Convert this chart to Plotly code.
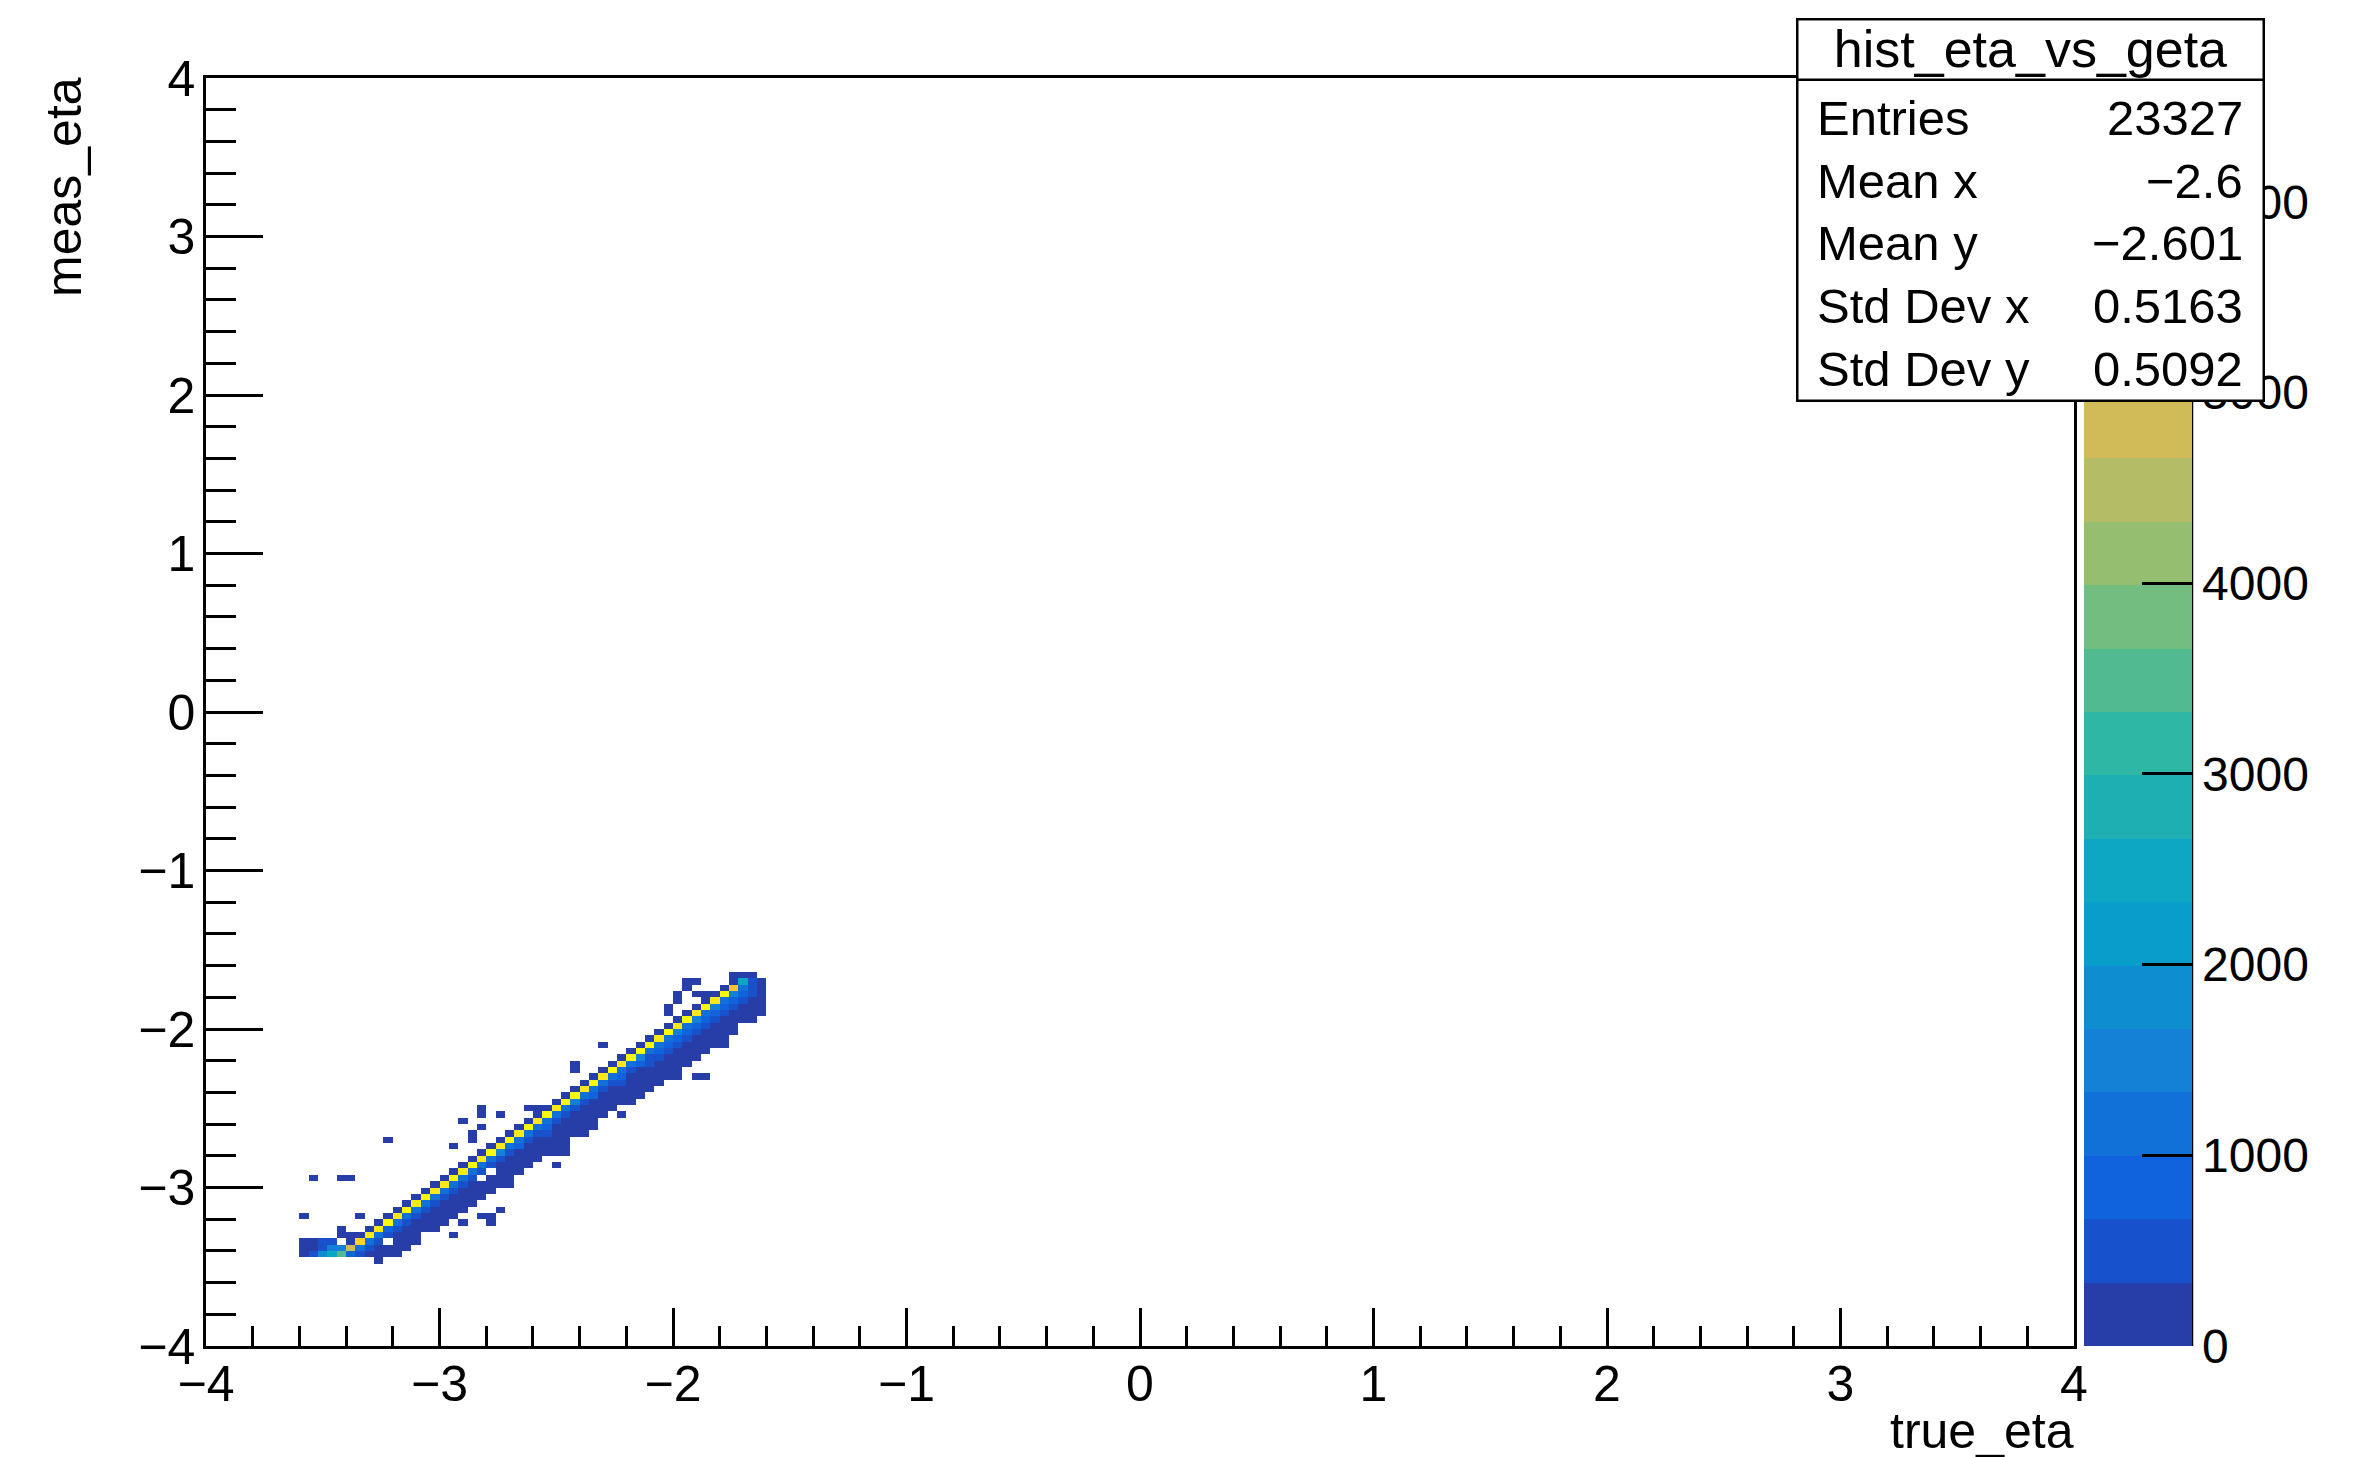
import plotly.graph_objects as go

# ---------------- data ----------------
# bin width of the 2D histogram (200 x 200 bins on [-4, 4])
bin_width = 0.04

# centre of each populated true_eta column
true_eta_bins = [-3.58, -3.54, -3.50, -3.46, -3.42, -3.38, -3.34, -3.30, -3.26, -3.22,
                 -3.18, -3.14, -3.10, -3.06, -3.02, -2.98, -2.94, -2.90, -2.86, -2.82,
                 -2.78, -2.74, -2.70, -2.66, -2.62, -2.58, -2.54, -2.50, -2.46, -2.42,
                 -2.38, -2.34, -2.30, -2.26, -2.22, -2.18, -2.14, -2.10, -2.06, -2.02,
                 -1.98, -1.94, -1.90, -1.86, -1.82, -1.78, -1.74, -1.70, -1.66, -1.62]

# meas_eta bin centres filled in each column
meas_eta_cells = [
    [-3.42, -3.38, -3.18, -3.34],
    [-3.42, -3.38, -2.94, -3.34],
    [-3.42, -3.38, -3.34],
    [-3.42, -3.38, -3.34],
    [-3.42, -3.38, -3.30, -3.26, -2.94],
    [-3.42, -3.38, -3.34, -3.30, -2.94],
    [-3.42, -3.38, -3.34, -3.30, -3.18],
    [-3.42, -3.38, -3.34, -3.30, -3.26],
    [-3.46, -3.42, -3.38, -3.34, -3.30, -3.26, -3.22],
    [-3.38, -3.30, -3.26, -3.22, -3.18, -2.70, -3.42],
    [-3.34, -3.30, -3.26, -3.22, -3.18, -3.14, -3.38, -3.42],
    [-3.34, -3.26, -3.22, -3.18, -3.14, -3.10, -3.30, -3.38],
    [-3.26, -3.22, -3.18, -3.14, -3.10, -3.06, -3.30, -3.34],
    [-3.22, -3.14, -3.10, -3.06, -3.02, -3.18, -3.26],
    [-3.18, -3.14, -3.10, -3.06, -3.02, -2.98, -3.22, -3.26],
    [-3.18, -3.10, -3.06, -3.02, -2.98, -2.94, -3.14, -3.22],
    [-3.30, -3.10, -3.06, -3.02, -2.98, -2.94, -2.90, -2.74, -3.14, -3.18],
    [-3.22, -3.14, -3.10, -3.06, -3.02, -2.98, -2.94, -2.90, -2.86, -2.58],
    [-2.98, -2.94, -2.90, -2.86, -2.82, -2.70, -2.66, -3.02, -3.06, -3.10],
    [-3.18, -2.98, -2.90, -2.86, -2.82, -2.78, -2.62, -2.54, -2.50, -3.02, -3.06],
    [-3.22, -3.18, -2.94, -2.86, -2.82, -2.78, -2.74, -2.98, -3.02],
    [-3.14, -2.90, -2.86, -2.82, -2.78, -2.74, -2.70, -2.54, -2.94, -2.98],
    [-2.86, -2.82, -2.78, -2.74, -2.70, -2.66, -2.90, -2.94, -2.98],
    [-2.86, -2.82, -2.78, -2.74, -2.70, -2.66, -2.62, -2.90],
    [-2.82, -2.78, -2.74, -2.70, -2.66, -2.62, -2.58, -2.50, -2.86],
    [-2.74, -2.70, -2.66, -2.62, -2.58, -2.54, -2.50, -2.78, -2.82],
    [-2.74, -2.66, -2.62, -2.58, -2.54, -2.50, -2.70, -2.78],
    [-2.86, -2.78, -2.66, -2.62, -2.58, -2.54, -2.50, -2.46, -2.70, -2.74],
    [-2.78, -2.74, -2.62, -2.58, -2.54, -2.50, -2.46, -2.42, -2.66, -2.70],
    [-2.54, -2.50, -2.46, -2.42, -2.38, -2.26, -2.22, -2.58, -2.62, -2.66],
    [-2.66, -2.62, -2.58, -2.50, -2.46, -2.42, -2.38, -2.34, -2.54],
    [-2.62, -2.50, -2.46, -2.42, -2.38, -2.34, -2.30, -2.54, -2.58],
    [-2.50, -2.42, -2.38, -2.34, -2.30, -2.26, -2.10, -2.46, -2.54],
    [-2.50, -2.42, -2.38, -2.34, -2.30, -2.26, -2.22, -2.46],
    [-2.54, -2.46, -2.38, -2.34, -2.30, -2.26, -2.22, -2.18, -2.42],
    [-2.34, -2.30, -2.26, -2.22, -2.18, -2.14, -2.38, -2.42, -2.46],
    [-2.34, -2.30, -2.26, -2.22, -2.18, -2.14, -2.10, -2.38, -2.42],
    [-2.30, -2.26, -2.22, -2.18, -2.14, -2.10, -2.06, -2.34, -2.38],
    [-2.26, -2.22, -2.18, -2.14, -2.10, -2.06, -2.02, -2.30, -2.34],
    [-2.26, -2.18, -2.14, -2.10, -2.06, -2.02, -1.98, -1.90, -1.86, -2.22, -2.30],
    [-2.30, -2.26, -2.22, -2.14, -2.10, -2.06, -2.02, -1.98, -1.94, -1.82, -1.78, -2.18],
    [-2.18, -2.10, -2.06, -2.02, -1.98, -1.94, -1.90, -1.74, -1.70, -2.14, -2.22],
    [-2.30, -2.10, -2.06, -2.02, -1.98, -1.94, -1.90, -1.86, -1.78, -1.70, -2.14, -2.18],
    [-2.30, -2.14, -2.10, -2.02, -1.98, -1.94, -1.90, -1.86, -1.82, -1.78, -2.06],
    [-2.02, -1.98, -1.94, -1.90, -1.86, -1.82, -1.78, -2.06, -2.10],
    [-2.10, -1.94, -1.90, -1.86, -1.82, -1.78, -1.74, -1.98, -2.02, -2.06],
    [-1.90, -1.86, -1.82, -1.78, -1.74, -1.70, -1.66, -1.94, -1.98, -2.02],
    [-1.86, -1.82, -1.78, -1.74, -1.70, -1.66, -1.90, -1.94],
    [-1.86, -1.82, -1.78, -1.74, -1.70, -1.66, -1.90, -1.94],
    [-1.90, -1.86, -1.82, -1.78, -1.74, -1.70],
]

# bin contents matching meas_eta_cells
cell_counts = [
    [320, 180, 60, 150],
    [520, 260, 60, 200],
    [1900, 650, 350],
    [2600, 1600, 600],
    [3600, 1500, 110, 80, 70],
    [900, 4700, 160, 130, 70],
    [420, 1100, 5900, 90, 70],
    [150, 380, 1000, 6200, 100],
    [70, 110, 120, 420, 1150, 6000, 80],
    [90, 350, 900, 6350, 110, 70, 80],
    [70, 200, 500, 1200, 6100, 90, 120, 60],
    [80, 180, 600, 1000, 6400, 100, 250, 70],
    [90, 220, 450, 1300, 6200, 120, 150, 80],
    [120, 550, 1100, 6500, 90, 300, 70],
    [80, 250, 600, 1250, 6300, 100, 100, 60],
    [70, 160, 480, 1000, 6000, 110, 220, 70],
    [60, 90, 240, 520, 1150, 6450, 90, 70, 130, 80],
    [60, 70, 80, 110, 300, 600, 1300, 6200, 120, 60],
    [200, 650, 1000, 6550, 100, 70, 80, 280, 130, 70],
    [70, 120, 450, 1200, 6100, 110, 60, 70, 80, 150, 70],
    [60, 80, 150, 380, 1100, 6400, 130, 180, 80],
    [70, 90, 250, 600, 1350, 6250, 100, 60, 150, 70],
    [70, 200, 550, 1050, 6500, 90, 160, 90, 60],
    [90, 120, 300, 700, 1250, 6300, 110, 70],
    [70, 100, 240, 500, 1150, 6600, 120, 80, 90],
    [130, 280, 650, 1300, 6150, 100, 70, 120, 70],
    [110, 350, 700, 1100, 6450, 90, 160, 80],
    [70, 90, 120, 260, 550, 1250, 6250, 110, 100, 70],
    [60, 80, 100, 300, 600, 1050, 6650, 100, 150, 90],
    [220, 500, 1350, 6350, 130, 70, 60, 120, 80, 60],
    [70, 80, 90, 280, 650, 1150, 6100, 100, 130],
    [60, 140, 320, 700, 1250, 6500, 90, 90, 70],
    [100, 250, 550, 1100, 6300, 120, 60, 120, 60],
    [90, 130, 300, 650, 1300, 6600, 110, 80],
    [60, 70, 150, 350, 750, 1200, 6200, 100, 90],
    [110, 280, 600, 1050, 6450, 130, 180, 90, 60],
    [70, 150, 330, 700, 1350, 6350, 110, 110, 70],
    [80, 140, 380, 650, 1150, 6550, 90, 140, 80],
    [90, 200, 420, 800, 1300, 6150, 120, 160, 90],
    [80, 160, 350, 700, 1200, 6500, 100, 70, 60, 200, 70],
    [70, 90, 60, 180, 400, 750, 1400, 6250, 130, 70, 80, 250],
    [80, 200, 450, 800, 1100, 6600, 110, 60, 70, 160, 70],
    [70, 90, 220, 500, 850, 1350, 6300, 120, 80, 60, 130, 80],
    [60, 70, 80, 180, 380, 700, 1250, 6450, 100, 70, 200],
    [80, 200, 450, 900, 1400, 6200, 130, 150, 90],
    [70, 150, 400, 800, 1300, 6500, 120, 180, 100, 60],
    [200, 500, 900, 1500, 5600, 150, 180, 220, 120, 70],
    [220, 450, 800, 1200, 2600, 200, 150, 80],
    [150, 250, 350, 500, 600, 150, 120, 70],
    [70, 90, 120, 200, 280, 300],
]

z_min, z_max = 0, 6650
colorbar_ticks = [0, 1000, 2000, 3000, 4000, 5000, 6000]
axis_ticks = [-4, -3, -2, -1, 0, 1, 2, 3, 4]

stats_title = "hist_eta_vs_geta"
stats_labels = ["Entries", "Mean x", "Mean y", "Std Dev x", "Std Dev y"]
stats_values = ["23327", "\u22122.6", "\u22122.601", "0.5163", "0.5092"]

x_title = "true_eta"
y_title = "meas_eta"

# ---------------- build histogram grid ----------------
nb = 200
z = [[None] * nb for _ in range(nb)]
for xc, ys, cs in zip(true_eta_bins, meas_eta_cells, cell_counts):
    ix = int(round((xc + 4) / bin_width - 0.5))
    for yc, c in zip(ys, cs):
        iy = int(round((yc + 4) / bin_width - 0.5))
        z[iy][ix] = c

# ROOT kBird palette, 20 contour levels
stops = [0.0, 0.125, 0.25, 0.375, 0.5, 0.625, 0.75, 0.875, 1.0]
red = [0.2082, 0.0592, 0.0780, 0.0232, 0.1802, 0.5301, 0.8186, 0.9956, 0.9764]
green = [0.1664, 0.3599, 0.5041, 0.6419, 0.7178, 0.7492, 0.7328, 0.7862, 0.9832]
blue = [0.5293, 0.8684, 0.8385, 0.7914, 0.6425, 0.4662, 0.3499, 0.1968, 0.0539]


def bird(t):
    for i in range(len(stops) - 1):
        if stops[i] <= t <= stops[i + 1]:
            f = (t - stops[i]) / (stops[i + 1] - stops[i])
            r = red[i] + f * (red[i + 1] - red[i])
            g = green[i] + f * (green[i + 1] - green[i])
            b = blue[i] + f * (blue[i + 1] - blue[i])
            return "rgb(%d,%d,%d)" % (round(r * 255), round(g * 255), round(b * 255))
    return "rgb(249,251,14)"


ncont = 20
colorscale = []
for i in range(ncont):
    idx = int((i + 0.99) * 255 / ncont)
    col = bird(idx / 254.0)
    colorscale.append([i / ncont, col])
    colorscale.append([(i + 1) / ncont, col])

# ---------------- geometry (pixels) ----------------
W, H = 2356, 1457
ML, MR, MT, MB = 198, 290, 70, 119
PW, PH = W - ML - MR, H - MT - MB


def px(xp):
    return (xp - ML) / PW


def py(yp):
    return (MT + PH - yp) / PH


FONT = "Liberation Sans, Arial, Helvetica, sans-serif"

fig = go.Figure()
fig.add_trace(go.Heatmap(
    z=z, x0=-4 + bin_width / 2, dx=bin_width, y0=-4 + bin_width / 2, dy=bin_width,
    colorscale=colorscale, zmin=z_min, zmax=z_max, zauto=False,
    hoverinfo="skip", xgap=0, ygap=0,
    colorbar=dict(
        x=px(2076), xanchor="left", xref="paper", xpad=0,
        y=0.5, yanchor="middle", len=1, lenmode="fraction", ypad=0,
        thickness=108, thicknessmode="pixels",
        outlinewidth=0,
        tickmode="array", tickvals=colorbar_ticks,
        ticktext=[str(v) for v in colorbar_ticks],
        ticks="inside", ticklen=50, tickwidth=2.5, tickcolor="black",
        tickfont=dict(family=FONT, size=48, color="black"),
    ),
))

axis_common = dict(
    range=[-4, 4], showgrid=False, zeroline=False,
    showline=True, linecolor="black", linewidth=2.5, mirror=True,
    tickmode="array", tickvals=axis_ticks,
    ticks="inside", tickwidth=2.5, tickcolor="black",
    tickfont=dict(family=FONT, size=50, color="black"),
)
fig.update_xaxes(**axis_common, ticklen=38, ticklabelstandoff=-8,
                 minor=dict(tick0=-4, dtick=0.2, ticks="inside", ticklen=20,
                            tickwidth=2.5, tickcolor="black", showgrid=False))
fig.update_yaxes(**axis_common, ticklen=57, ticklabelstandoff=-2,
                 minor=dict(tick0=-4, dtick=0.2, ticks="inside", ticklen=30,
                            tickwidth=2.5, tickcolor="black", showgrid=False))

# right edge line of the palette
fig.add_shape(type="line", xref="paper", yref="paper",
              x0=px(2184), x1=px(2184), y0=0, y1=1,
              line=dict(color="black", width=2.5))

annotations = []
# axis titles
annotations.append(dict(text=x_title, xref="paper", yref="paper",
                        x=px(2068), y=py(1423), xanchor="right", yanchor="middle",
                        showarrow=False, font=dict(family=FONT, size=50, color="black")))
annotations.append(dict(text=y_title, xref="paper", yref="paper",
                        x=px(56), y=py(67), xanchor="center", yanchor="top",
                        textangle=-90, showarrow=False,
                        font=dict(family=FONT, size=50, color="black")))

# statistics box
box_l, box_r, box_t, box_sep, box_b = 1788, 2257, 10, 70, 394
bw = 2.5
annotations.append(dict(text=" ", xref="paper", yref="paper",
                        x=px(box_l), y=py(box_sep), xanchor="left", yanchor="top",
                        width=box_r - box_l - 2 * bw, height=box_b - box_sep - 2 * bw,
                        bgcolor="white", bordercolor="black", borderwidth=bw, borderpad=0,
                        showarrow=False, font=dict(family=FONT, size=10)))
annotations.append(dict(text=stats_title, xref="paper", yref="paper",
                        x=px(box_l), y=py(box_t), xanchor="left", yanchor="top",
                        width=box_r - box_l - 2 * bw, height=box_sep - box_t - bw,
                        align="center", valign="middle",
                        bgcolor="white", bordercolor="black", borderwidth=bw, borderpad=0,
                        showarrow=False, font=dict(family=FONT, size=52, color="black")))
for i, (lab, val) in enumerate(zip(stats_labels, stats_values)):
    yc = 110 + 62.75 * i
    annotations.append(dict(text=lab, xref="paper", yref="paper",
                            x=px(1808), y=py(yc), xanchor="left", yanchor="middle",
                            showarrow=False, borderpad=0,
                            font=dict(family=FONT, size=49, color="black")))
    annotations.append(dict(text=val, xref="paper", yref="paper",
                            x=px(2236), y=py(yc), xanchor="right", yanchor="middle",
                            showarrow=False, borderpad=0,
                            font=dict(family=FONT, size=49, color="black")))

fig.update_layout(
    width=W, height=H,
    margin=dict(l=ML, r=MR, t=MT, b=MB, autoexpand=False),
    paper_bgcolor="white", plot_bgcolor="white",
    showlegend=False,
    annotations=annotations,
    font=dict(family=FONT, color="black"),
)

fig.write_html("out.html")
